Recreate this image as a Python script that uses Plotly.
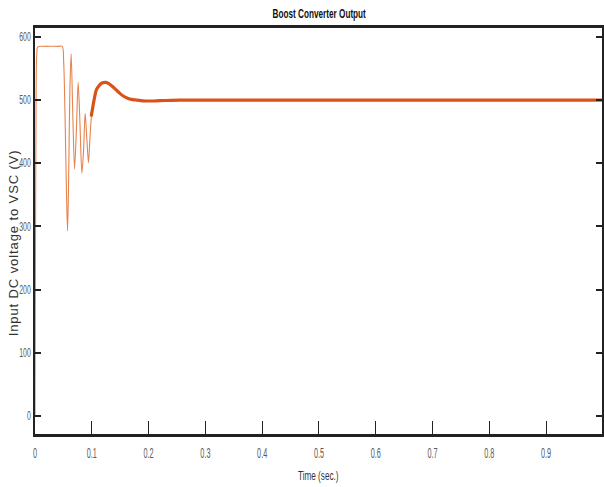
import plotly.graph_objects as go

# Transient part of the boost converter output (time in s, voltage in V)
t_transient = [0.0, 0.0008, 0.0018, 0.003, 0.005, 0.02, 0.04, 0.048, 0.0505, 0.053, 0.0555, 0.0573,
               0.059, 0.0615, 0.0637, 0.0665, 0.0696, 0.0728, 0.076, 0.0793, 0.0825, 0.0855,
               0.0883, 0.0912, 0.0942, 0.0968, 0.0994, 0.101]
v_transient = [0.0, 250, 480, 570, 584, 585, 585, 585, 560, 470, 350, 293,
               360, 520, 573, 480, 391, 450, 528, 460, 384, 420,
               479, 440, 401, 440, 474, 480]

# Settling and steady state part
t_steady = [0.099, 0.104, 0.108, 0.113, 0.118, 0.1246, 0.13, 0.137, 0.143, 0.149, 0.156, 0.163,
            0.17, 0.178, 0.186, 0.195, 0.205, 0.22, 0.24, 0.27, 0.3, 0.4, 0.5, 0.6, 0.7, 0.8, 0.9, 1.0]
v_steady = [474, 500, 516, 523, 527, 528, 526, 521, 516, 511, 506, 503,
            501, 500, 499, 498.5, 498.5, 499, 499.5, 500, 500, 500, 500, 500, 500, 500, 500, 500]

x_ticks = [0, 0.1, 0.2, 0.3, 0.4, 0.5, 0.6, 0.7, 0.8, 0.9]
x_tick_labels = ["0", "0.1", "0.2", "0.3", "0.4", "0.5", "0.6", "0.7", "0.8", "0.9"]
y_ticks = [0, 100, 200, 300, 400, 500, 600]

title_text = "Boost Converter Output"
x_title = "Time (sec.)"
y_title = "Input DC voltage to VSC (V)"

line_color = "#D95319"
sans = "Liberation Sans, Arial, sans-serif"

fig = go.Figure()
fig.add_trace(go.Scatter(x=t_transient, y=v_transient, mode="lines",
                         line=dict(color="#E6844F", width=1.1, shape="spline", smoothing=0.8),
                         showlegend=False))
fig.add_trace(go.Scatter(x=t_steady, y=v_steady, mode="lines",
                         line=dict(color=line_color, width=3.2, shape="spline", smoothing=0.6),
                         showlegend=False))

fig.update_layout(
    width=604, height=487,
    margin=dict(l=35, r=0, t=28, b=53),
    paper_bgcolor="white", plot_bgcolor="white",
    title=dict(text="<b>" + title_text + "</b>", x=0.5285, xanchor="center", y=0.973, yanchor="middle",
               font=dict(family=sans, size=13, color="#111")),
    font=dict(family=sans, size=12, color="#333"),
)
fig.update_xaxes(range=[0, 0.9985], tickvals=x_ticks, ticktext=x_tick_labels,
                 ticks="inside", ticklen=13, tickwidth=1.3, tickcolor="#222",
                 showline=True, linewidth=2.5, linecolor="#222", mirror=True,
                 showgrid=False, zeroline=False, ticklabelstandoff=4,
                 tickfont=dict(family=sans, size=14, color="#5a5a5a"))
fig.update_yaxes(range=[-28.5, 614], tickvals=y_ticks,
                 ticks="inside", ticklen=6, tickwidth=2, tickcolor="#222",
                 showline=True, linewidth=1.5, linecolor="#222", mirror="ticks",
                 showgrid=False, zeroline=False,
                 tickfont=dict(family=sans, size=12, color="#5a5a5a"))
fig.add_annotation(text=y_title, xref="paper", yref="paper",
                   x=-0.038, y=0.47, xanchor="center", yanchor="middle", textangle=-90,
                   showarrow=False, font=dict(family=sans, size=13, color="#333"))
fig.add_annotation(text=x_title, xref="paper", yref="paper",
                   x=0.5, y=-0.101, xanchor="center", yanchor="middle",
                   showarrow=False, font=dict(family=sans, size=13, color="#333"))

# The reference uses a very condensed (narrow) typeface; adjust glyph widths of real text.
post = """
var gd = document.getElementById('{plot_id}');
function squeeze(sel, f, target){
  gd.querySelectorAll(sel).forEach(function(t){
    var w = t.getComputedTextLength();
    if (w > 0) {
      var L = target ? target : w * f;
      t.setAttribute('textLength', L.toFixed(2));
      t.setAttribute('lengthAdjust', target ? 'spacing' : 'spacingAndGlyphs');
    }
  });
}
function run(){
  squeeze('.xtick text', 0.52);
  squeeze('.ytick text', 0.58);
  squeeze('.gtitle', 0.63);
  squeeze('.annotation[data-index="1"] text', 0.63);
  squeeze('.annotation[data-index="0"] text', 1, 186);
}
run();
gd.on('plotly_afterplot', run);
"""
fig.write_html("out.html", post_script=post)
